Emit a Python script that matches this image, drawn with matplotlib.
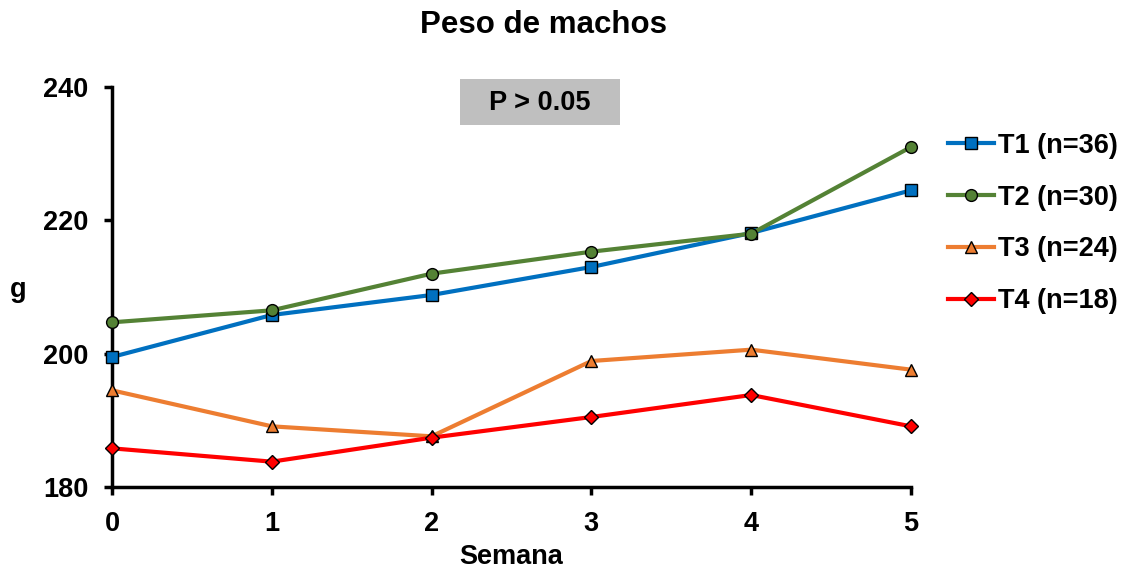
import matplotlib
matplotlib.use("Agg")
import matplotlib.pyplot as plt
from matplotlib.patches import Rectangle

plt.rcParams['font.family'] = ['Liberation Sans', 'DejaVu Sans']
plt.rcParams['font.weight'] = 'bold'

semanas = [0, 1, 2, 3, 4, 5]
t1 = [199.5, 205.8, 208.8, 213.0, 218.1, 224.5]
t2 = [204.7, 206.5, 212.0, 215.3, 218.0, 231.0]
t3 = [194.5, 189.1, 187.6, 198.9, 200.6, 197.6]
t4 = [185.8, 183.8, 187.4, 190.5, 193.8, 189.1]

series = [
    ("T1 (n=36)", t1, "#0070C0", "s"),
    ("T2 (n=30)", t2, "#548235", "o"),
    ("T3 (n=24)", t3, "#ED7D31", "^"),
    ("T4 (n=18)", t4, "#FF0000", "D"),
]

FS = 19.5

fig = plt.figure(figsize=(11.24, 5.69), dpi=100)
ax = fig.add_axes([112/1124, 1 - 487/569, (911 - 112)/1124, (487 - 87)/569])

for label, vals, col, mk in series:
    ms = 7 if mk == "D" else 8.5
    ax.plot(semanas, vals, color=col, linewidth=3, marker=mk, markersize=ms,
            markerfacecolor=col, markeredgecolor="black", markeredgewidth=1,
            label=label, zorder=5, clip_on=False)

ax.set_xlim(0, 5)
ax.set_ylim(180, 240)
ax.set_xticks(semanas)
ax.set_yticks([180, 200, 220, 240])
ax.tick_params(axis='both', labelsize=FS, width=2.5, length=6, direction='out')
ax.tick_params(axis='x', pad=11)
ax.tick_params(axis='y', pad=11)
for lab in ax.get_xticklabels() + ax.get_yticklabels():
    lab.set_fontweight('bold')
for s in ['top', 'right']:
    ax.spines[s].set_visible(False)
for s in ['left', 'bottom']:
    ax.spines[s].set_linewidth(2.5)

ax.set_xlabel("Semana", fontsize=FS, fontweight='bold', va='center')
ax.xaxis.set_label_coords(0.5, -(557 - 487) / 400)
ax.set_ylabel("g", fontsize=FS, fontweight='bold', rotation=0, va='center')
ax.yaxis.set_label_coords(-(112 - 18) / 799, 0.5 - 3 / 400)

fig.text(544/1124, 1 - 25/569, "Peso de machos", ha='center', va='center',
         fontsize=22.5, fontweight='bold')

fig.patches.append(Rectangle((460/1124, 1 - 125/569), 160/1124, 46/569,
                             transform=fig.transFigure, facecolor="#BFBFBF",
                             edgecolor='none'))
fig.text(540/1124, 1 - 103/569, "P > 0.05", ha='center', va='center',
         fontsize=FS, fontweight='bold')

leg = ax.legend(loc='upper left', bbox_to_anchor=(929/1124, 1 - 114/569),
                bbox_transform=fig.transFigure, frameon=False,
                handlelength=1.7, handletextpad=0.15, labelspacing=0.95,
                borderpad=0.2, prop={'weight': 'bold', 'size': FS})

fig.savefig("out.png", dpi=100)
